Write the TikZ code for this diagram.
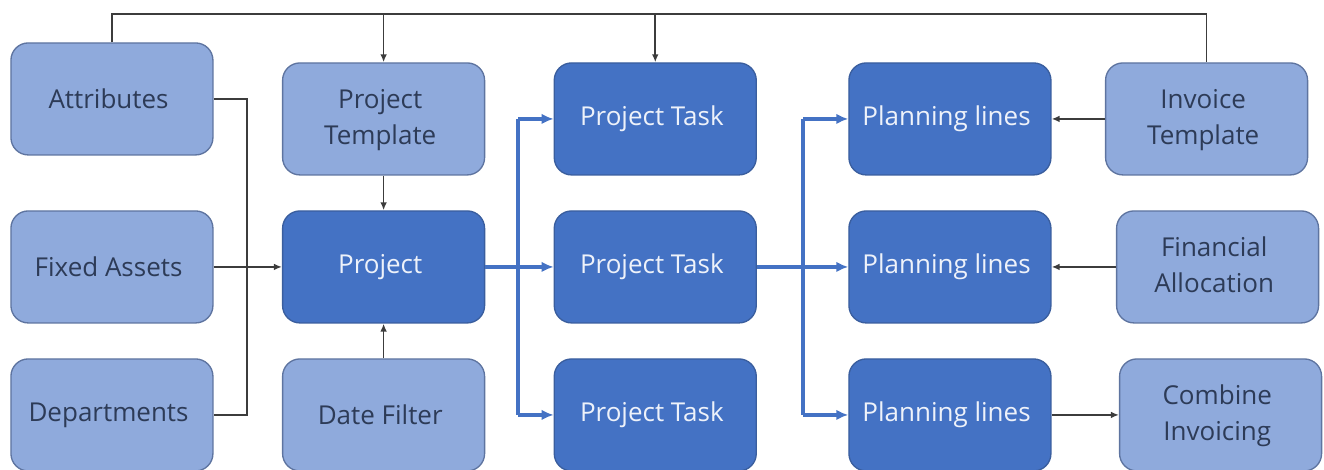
\documentclass[tikz,border=0pt]{standalone}
\usepackage{fontspec}
\setmainfont{Open Sans}
\usetikzlibrary{matrix,arrows.meta,calc}
\definecolor{lightfill}{HTML}{8FAADC}
\definecolor{lightedge}{HTML}{5E74A0}
\definecolor{darkfill}{HTML}{4472C4}
\definecolor{darkedge}{HTML}{3A5E9E}
\definecolor{lighttext}{HTML}{2D3B57}
\definecolor{darktext}{HTML}{EEF2FA}
\definecolor{wirecol}{HTML}{3C3C3C}
\newcommand{\twoline}[2]{\begin{tabular}{@{}c@{}}#1\\#2\end{tabular}}
\tikzset{
  box/.style={rectangle, rounded corners=13pt, minimum width=151.5pt, minimum height=84pt,
    align=center, line width=1pt, font=\fontsize{19.5}{27}\selectfont, inner sep=2pt},
  lightbox/.style={box, fill=lightfill, draw=lightedge, text=lighttext},
  darkbox/.style={box, fill=darkfill, draw=darkedge, text=darktext},
  wire/.style={draw=wirecol, line width=1.3pt},
  wirearrow/.style={wire, -{Latex[length=6pt,width=5pt]}},
  bluewire/.style={draw=darkfill, line width=2.8pt},
  bluearrow/.style={bluewire, -{Latex[length=9pt,width=8pt]}},
}
\begin{document}
\begin{tikzpicture}[x=0.75pt,y=-0.75pt]
  \useasboundingbox (0,0) rectangle (1324,470);
  \matrix[matrix of nodes, ampersand replacement=\&, column sep=51.25pt, row sep=26pt,
    nodes={anchor=center}, inner sep=0pt, anchor=north west] (diagram) at (10,42) {
    |[lightbox,yshift=15pt] (attr)| Attributes \& |[lightbox] (tmpl)| \twoline{Project}{Template} \& |[darkbox] (taskA)| Project Task \&[17.25pt] |[darkbox] (planA)| Planning lines \&[-11.25pt] |[lightbox] (inv)| \twoline{Invoice}{Template} \\
    |[lightbox] (fixed)| Fixed Assets \& |[darkbox] (proj)| Project \& |[darkbox] (taskB)| Project Task \& |[darkbox] (planB)| Planning lines \& |[lightbox,xshift=8.25pt] (fin)| \twoline{Financial}{Allocation} \\
    |[lightbox] (dept)| Departments \& |[lightbox] (date)| Date Filter \& |[darkbox] (taskC)| Project Task \& |[darkbox] (planC)| Planning lines \& |[lightbox,xshift=10.5pt] (comb)| \twoline{Combine}{Invoicing} \\
  };
  \coordinate (top) at (0,14);
  \coordinate (lbus) at (247,0);
  \coordinate (mbus) at (518,0);
  \coordinate (rbus) at (803,0);
  \draw[wire] (attr.north) |- (top -| inv.north) -- (inv.north);
  \draw[wirearrow] (top -| tmpl.north) -- (tmpl.north);
  \draw[wirearrow] (top -| taskA.north) -- (taskA.north);
  \draw[wire] (attr.east) -| (lbus |- dept.east) -- (dept.east);
  \draw[wirearrow] (fixed) -- (proj);
  \draw[wirearrow] (tmpl) -- (proj);
  \draw[wirearrow] (date) -- (proj);
  \draw[bluearrow] (proj) -- (taskB);
  \draw[bluewire] (mbus |- taskA.west) -- (mbus |- taskC.west);
  \draw[bluearrow] (mbus |- taskA.west) -- (taskA);
  \draw[bluearrow] (mbus |- taskC.west) -- (taskC);
  \draw[bluearrow] (taskB) -- (planB);
  \draw[bluewire] (rbus |- planA.west) -- (rbus |- planC.west);
  \draw[bluearrow] (rbus |- planA.west) -- (planA);
  \draw[bluearrow] (rbus |- planC.west) -- (planC);
  \draw[wirearrow] (inv) -- (planA);
  \draw[wirearrow] (fin) -- (planB);
  \draw[wirearrow] (planC) -- (comb);
\end{tikzpicture}
\end{document}
